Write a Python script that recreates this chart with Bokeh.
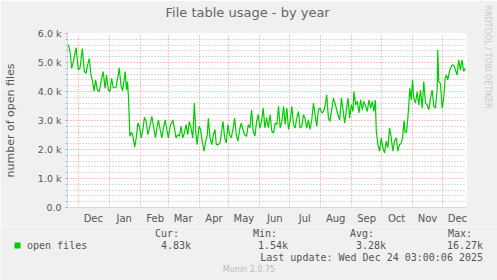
from datetime import datetime, timedelta
from bokeh.plotting import figure
from bokeh.layouts import column
from bokeh.models import (Range1d, FixedTicker, CustomJSTickFormatter, Title, Label,
                          ColumnDataSource)
from bokeh.embed import file_html
from bokeh.resources import INLINE

# ---------------- data ----------------
TITLE = "File table usage - by year"
Y_LABEL = "number of open files"
SERIES = "open files"
START = datetime(2024, 12, 1)          # day 0
RANGE_START = datetime(2024, 11, 20, 3)
RANGE_END = datetime(2025, 12, 25, 3)

day = [-10.0, -8.3, -6.7, -5.0, -2.3, 0.0, 1.7, 4.0, 6.0, 7.7, 9.3, 11.0, 12.7, 14.3,
       15.7, 17.3, 19.0, 21.0, 22.7, 25.0, 26.7, 28.3, 30.0, 31.7, 33.3, 35.0, 37.7,
       40.0, 41.0, 42.7, 44.3, 45.7, 47.0, 48.3, 49.3, 50.3, 51.7, 53.3, 54.7, 56.5,
       58.0, 59.7, 61.3, 63.0, 64.7, 66.3, 68.0, 69.7, 71.3, 73.7, 75.3, 77.3, 79.0,
       80.3, 82.3, 83.7, 85.3, 87.0, 89.0, 90.3, 92.0, 94.7, 96.3, 98.0, 99.7, 101.3,
       103.0, 104.7, 106.3, 108.0, 109.7, 111.3, 113.0, 114.7, 116.3, 117.7, 119.0,
       121.0, 122.5, 124.0, 126.0, 127.7, 129.3, 130.3, 132.0, 133.7, 135.3, 137.0,
       138.3, 140.3, 142.0, 143.7, 145.0, 146.7, 148.3, 150.0, 151.7, 153.3, 155.0,
       156.7, 158.3, 160.0, 161.7, 163.3, 165.0, 166.7, 168.7, 170.3, 172.0, 173.7,
       175.3, 177.0, 178.7, 180.3, 182.0, 183.7, 185.3, 187.0, 188.7, 190.5, 192.3,
       194.0, 195.7, 197.3, 199.0, 200.7, 202.3, 204.0, 205.7, 207.3, 209.0, 210.7,
       212.3, 214.0, 215.7, 217.3, 219.0, 220.7, 222.3, 224.0, 225.7, 227.3, 229.0,
       230.7, 232.3, 234.0, 235.7, 237.3, 239.0, 240.7, 242.3, 244.0, 245.7, 247.3,
       249.0, 250.7, 252.3, 254.0, 255.7, 257.3, 259.0, 260.3, 262.0, 263.7, 265.3,
       267.0, 268.7, 270.3, 272.0, 273.7, 275.3, 276.3, 278.0, 279.7, 281.3, 283.0,
       284.7, 286.3, 288.0, 289.7, 291.3, 293.0, 294.7, 296.3, 297.7, 298.7, 300.3,
       302.0, 303.7, 305.3, 307.0, 308.7, 310.3, 312.0, 313.7, 315.3, 317.0, 318.7,
       320.3, 322.0, 323.5, 325.0, 326.5, 327.5, 329.0, 330.3, 331.3, 332.3, 333.7,
       335.0, 336.3, 338.0, 339.7, 341.3, 343.0, 344.7, 346.3, 348.0, 349.7, 351.3,
       353.0, 354.7, 356.3, 358.0, 359.7, 360.3, 361.3, 363.0, 364.7, 366.3, 367.7,
       369.0, 370.3, 371.7, 373.0, 374.7, 376.3, 378.0, 379.7, 381.3, 383.0, 384.7,
       386.3, 388.0]

open_files = [5620, 5370, 4800, 5030, 5510, 4740, 4820, 5480, 4690, 4630, 4910, 5140, 4570, 4340,
              4020, 4400, 4050, 4000, 4340, 4690, 4110, 4570, 4050, 4000, 4450, 4130, 4130,
              4570, 4820, 4220, 4020, 4340, 4690, 4050, 4340, 3770, 2460, 2600, 2460, 2080,
              2400, 2910, 2800, 2400, 2690, 3110, 2970, 2510, 2740, 3140, 2800, 2400, 2800,
              3020, 2630, 2400, 2740, 3020, 2630, 2400, 2800, 3020, 2740, 2400, 2510, 2460,
              2800, 2400, 2570, 2860, 2510, 2970, 2740, 2400, 3600, 2630, 2170,
              2800, 2700, 2300, 1940, 2290, 2510, 3080, 2400, 2170, 2510, 2690,
              2170, 2170, 2230, 2630, 2970, 2400, 2230, 2860, 2510, 2400, 2690,
              3080, 2510, 2290, 2690, 2910, 2690, 2510, 2460, 2860, 2740, 3370,
              2630, 2460, 2970, 3200, 2740, 2970, 3430, 2740, 3100, 2750, 3200,
              2630, 2570, 2910, 2860, 3490, 2740, 2970, 3490, 2860, 3430, 2690,
              2970, 3490, 2860, 2740, 3080, 3310, 2740, 2800, 3200, 3080, 2740,
              3020, 2690, 3020, 3600, 3200, 2800, 3370, 3430, 3260, 3310, 3490,
              3890, 3080, 2970, 3370, 3770, 3600, 3370, 3200, 3020, 3770, 3370,
              2910, 3370, 3770, 3080, 3540, 3310, 4000, 3540, 3660, 3260, 3710,
              3370, 3660, 3490, 3310, 3710, 3430, 3660, 3310, 3710, 2630, 2170,
              1940, 2400, 2060, 1880, 2290, 2060, 2740, 2400, 1940, 2290, 2400,
              1940, 2170, 2200, 2400, 3000, 2600, 2600, 3080, 3540, 4110, 3710,
              4400, 3770, 3600, 4000, 3540, 4050, 3430, 4340, 3600, 3540, 3370,
              3770, 4050, 3490, 3430, 4050, 5430, 4340, 4280, 3430, 3770, 4450,
              4570, 4400, 4630, 4800, 4910, 4910, 4740, 4570, 5090, 4740, 5090,
              4690, 4800]

y_ticks = [0, 1000, 2000, 3000, 4000, 5000, 6000]
y_tick_labels = ["0.0", "1.0 k", "2.0 k", "3.0 k", "4.0 k", "5.0 k", "6.0 k"]
month_starts = [datetime(2024, 12, 1)] + [datetime(2025, m, 1) for m in range(1, 13)]
month_labels = ["Dec", "Jan", "Feb", "Mar", "Apr", "May", "Jun", "Jul", "Aug", "Sep",
                "Oct", "Nov", "Dec"]
stat_names = ["Cur:", "Min:", "Avg:", "Max:"]
stat_values = ["4.83k", "1.54k", "3.28k", "16.27k"]
LAST_UPDATE = "Last update: Wed Dec 24 03:00:06 2025"
FOOTER = "Munin 2.0.75"
WATERMARK = "RRDTOOL / TOBI OETIKER"

# ---------------- helpers ----------------
EPOCH = datetime(1970, 1, 1)
def ms(dt):
    return (dt - EPOCH).total_seconds() * 1000.0

NB = "\u00a0"
FONT = "DejaVu Sans"
MONO = "DejaVu Sans Mono"
TXT = "#555555"
AXIS_C = "#CFD6F8"
MGRID = "#f08888"
GRID = "#b8b8b8"
GREEN = "#00cc00"
BG = "#f0f0f0"

W, H = 497, 280
FL, FR, FT, FB = 66, 466, 33, 208   # frame edges in canvas px
H1 = 226                            # height of the chart part (legend block below)

p = figure(width=W, height=H1, output_backend="svg", toolbar_location=None,
           x_axis_type="datetime",
           x_range=Range1d(RANGE_START, RANGE_END), y_range=Range1d(0, 6000),
           min_border_left=FL, min_border_right=W - FR, min_border_top=FT,
           min_border_bottom=H1 - FB)
p.title.visible = False
p.background_fill_color = "#ffffff"
p.border_fill_color = BG
p.outline_line_color = None

src = ColumnDataSource(data=dict(x=[START + timedelta(days=d) for d in day], y=open_files))
p.line("x", "y", source=src, line_color=GREEN, line_width=1.2)

# y axis
minor = [v for v in range(0, 6001, 200) if v % 1000 != 0]
p.yaxis.ticker = FixedTicker(ticks=y_ticks, minor_ticks=minor)
p.yaxis.major_label_overrides = {t: l for t, l in zip(y_ticks, y_tick_labels)}
p.yaxis.axis_line_color = AXIS_C
p.yaxis.major_tick_in = 0
p.yaxis.major_tick_out = 2
p.yaxis.major_tick_line_color = MGRID
p.yaxis.minor_tick_in = 0
p.yaxis.minor_tick_out = 2
p.yaxis.minor_tick_line_color = GRID
p.yaxis.major_label_standoff = 4
p.yaxis.major_label_text_font = FONT
p.yaxis.major_label_text_font_size = "9.5px"
p.yaxis.major_label_text_color = TXT
p.yaxis.axis_label = Y_LABEL
p.yaxis.axis_label_text_font = FONT
p.yaxis.axis_label_text_font_size = "11px"
p.yaxis.axis_label_text_font_style = "normal"
p.yaxis.axis_label_text_color = TXT
p.yaxis.axis_label_standoff = 18

DASH = "1 2"
p.ygrid.ticker = FixedTicker(ticks=y_ticks, minor_ticks=minor)
p.ygrid.grid_line_color = MGRID
p.ygrid.grid_line_dash = DASH
p.ygrid.minor_grid_line_color = GRID
p.ygrid.minor_grid_line_dash = DASH

# x axis: grid at month starts, labels mid-month
start_ms = [ms(d) for d in month_starts]
mid_ms = [ms(d + timedelta(days=15)) for d in month_starts]
p.xgrid.ticker = FixedTicker(ticks=start_ms)
p.xgrid.grid_line_color = MGRID
p.xgrid.grid_line_dash = DASH
p.xaxis.ticker = FixedTicker(ticks=mid_ms)
p.xaxis.formatter = CustomJSTickFormatter(args=dict(mids=mid_ms, labs=month_labels), code="""
let best = 0;
for (let i = 0; i < mids.length; i++) {
  if (Math.abs(mids[i] - tick) < Math.abs(mids[best] - tick)) best = i;
}
return labs[best];
""")
p.xaxis.axis_line_color = AXIS_C
p.xaxis.major_tick_line_color = None
p.xaxis.major_tick_in = 0
p.xaxis.major_tick_out = 0
p.xaxis.minor_tick_line_color = None
p.xaxis.major_label_standoff = 5
p.xaxis.major_label_text_font = FONT
p.xaxis.major_label_text_font_size = "10px"
p.xaxis.major_label_text_color = TXT

# ---------------- title + watermark in the side panels ----------------
def add_title(text, place, offset, size, color=TXT, font=FONT, standoff=0):
    p.add_layout(Title(text=text, align="left", offset=offset, standoff=standoff,
                       vertical_align="middle", text_font=font, text_font_size=size,
                       text_color=color, text_font_style="normal"), place)

add_title(NB, "above", 0, "1px", standoff=10)          # spacer next to the frame
add_title(TITLE, "above", 98, "13px", color="#666666")
add_title(NB, "right", 0, "1px", standoff=12)          # spacer next to the frame
add_title(WATERMARK, "right", -28, "8px", color="#c8c8c8")

# ---------------- legend block (canvas y 226..280) ----------------
H2 = H - H1
q = figure(width=W, height=H2, output_backend="svg", toolbar_location=None,
           x_range=Range1d(0, W), y_range=Range1d(H2, 0),
           min_border=0, min_border_left=0, min_border_right=0,
           min_border_top=0, min_border_bottom=0)
for fig in (p, q):
    if "frame_align" in fig.properties():
        fig.frame_align = False
q.axis.visible = False
q.grid.visible = False
q.title.visible = False
q.outline_line_color = None
q.background_fill_color = BG
q.border_fill_color = BG

def txt(cx, cy, t, font=MONO, size="10px", color=TXT, align="left"):
    q.add_layout(Label(x=cx, y=cy - H1, text=t, text_font=font, text_font_size=size,
                       text_color=color, text_align=align, text_baseline="middle"))

# series swatch
q.quad(left=[14], right=[20], top=[242 - H1], bottom=[248 - H1],
       fill_color=GREEN, line_color=None)
txt(26.5, 245, SERIES)
for name, nx, val, vx in zip(stat_names, [154.5, 252.5, 349.5, 447.5],
                             stat_values, [190.5, 287.5, 385.5, 482.5]):
    txt(nx, 232.5, name)
    txt(vx, 245, val, align="right")
txt(482.5, 256.5, LAST_UPDATE, align="right")
txt(W / 2, 268.5, FOOTER, font=FONT, size="8px", color="#bbbbbb", align="center")

layout = column(p, q, spacing=0)
open("out.html", "w").write(file_html(layout, INLINE))
